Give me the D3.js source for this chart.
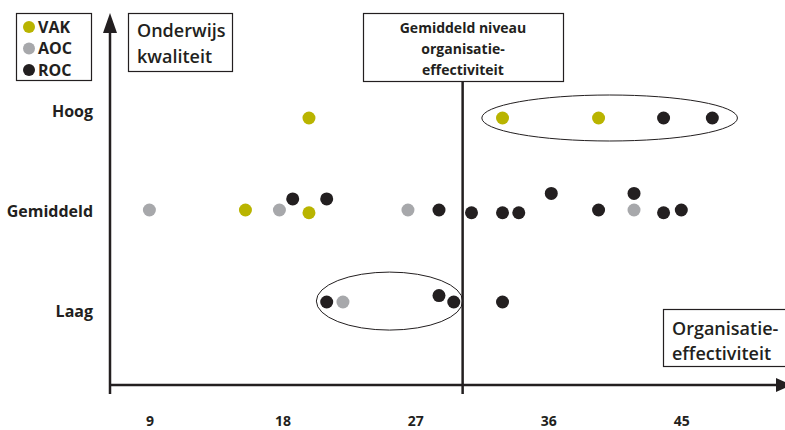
<!DOCTYPE html>
<html>
<head>
<meta charset="utf-8">
<script src="https://cdn.jsdelivr.net/npm/d3@7"></script>
<style>
    body { margin: 0; background: #fff; }
    svg { font-family: "Open Sans", sans-serif; }
</style>
</head>
<body>
<svg></svg>
<script>
const width = 785, height = 430;

// quality levels (1 = Laag, 2 = Gemiddeld, 3 = Hoog)
const levels = ["Laag", "Gemiddeld", "Hoog"];
const xTicks = [9, 18, 27, 36, 45];
const groups = ["VAK", "AOC", "ROC"];
const groupColors = ["#b9b400", "#a7a8ab", "#231f20"];

// organisatie-effectiviteit (x) and onderwijskwaliteit (y, with small offsets)
const vakX = [19.8, 32.9, 39.4, 15.5, 19.8];
const vakY = [3, 3, 3, 2, 1.97];
const aocX = [9, 17.8, 26.5, 41.8, 22.1];
const aocY = [2, 2, 2, 2, 1];
const rocX = [43.8, 47.1, 18.7, 21.0, 28.6, 30.8, 32.9, 34.0, 36.2, 39.4, 41.8, 43.8, 45.0, 21.0, 28.6, 29.6, 32.9];
const rocY = [3, 3, 2.12, 2.12, 2, 1.97, 1.97, 1.97, 2.18, 2, 2.18, 1.97, 2, 1, 1.07, 1, 1];

const average = 30.2;
const clusters = [
    {x0: 31.5, x1: 48.8, level: 3, ry: 23},
    {x0: 20.3, x1: 30.2, level: 1.01, ry: 29}
];

const ink = "#231f20";

const x = d3.scaleLinear().domain([9, 45]).range([149.4, 681.3]);
const y = d3.scaleLinear().domain([1, 3]).range([302, 118]);
const labelY = d3.scaleLinear().domain([1, 3]).range([311, 111]);

const svg = d3.select('svg')
    .attr('width', width)
    .attr('height', height);

const points = [];
vakX.forEach((v, i) => points.push({x: v, y: vakY[i], g: 0}));
aocX.forEach((v, i) => points.push({x: v, y: aocY[i], g: 1}));
rocX.forEach((v, i) => points.push({x: v, y: rocY[i], g: 2}));

// axes lines with arrows
svg.append('line')
    .attr('x1', 110).attr('x2', 110).attr('y1', 394).attr('y2', 28)
    .attr('stroke', ink).attr('stroke-width', 2.5);
svg.append('path')
    .attr('d', 'M110,13 L103,33 L117,33 Z')
    .attr('fill', ink);
svg.append('line')
    .attr('x1', 110).attr('x2', 780).attr('y1', 385).attr('y2', 385)
    .attr('stroke', ink).attr('stroke-width', 2.5);
svg.append('path')
    .attr('d', 'M792,385 L776,378 L776,392 Z')
    .attr('fill', ink);

// average line
svg.append('line')
    .attr('x1', x(average)).attr('x2', x(average))
    .attr('y1', 81).attr('y2', 394)
    .attr('stroke', ink).attr('stroke-width', 2.5);

// tick labels
const xAxis = svg.append('g')
    .attr('transform', 'translate(0,408)')
    .call(d3.axisBottom(x).tickValues(xTicks).tickSize(0).tickPadding(8));
xAxis.select('.domain').remove();
xAxis.selectAll('text')
    .attr('fill', ink)
    .style('font-family', '"Open Sans", sans-serif')
    .style('font-size', '14px')
    .style('font-weight', 700);

svg.selectAll('.level')
    .data(levels)
    .enter().append('text')
    .attr('class', 'level')
    .attr('x', 93)
    .attr('y', (d, i) => labelY(i + 1))
    .attr('dy', '0.35em')
    .attr('text-anchor', 'end')
    .attr('fill', ink)
    .style('font-size', '16px')
    .style('font-weight', 700)
    .text(d => d);

// cluster ellipses
svg.selectAll('.cluster')
    .data(clusters)
    .enter().append('ellipse')
    .attr('class', 'cluster')
    .attr('cx', d => (x(d.x0) + x(d.x1)) / 2)
    .attr('cy', d => y(d.level))
    .attr('rx', d => (x(d.x1) - x(d.x0)) / 2)
    .attr('ry', d => d.ry)
    .attr('fill', 'none')
    .attr('stroke', ink)
    .attr('stroke-width', 1);

// points
svg.selectAll('.point')
    .data(points)
    .enter().append('circle')
    .attr('class', 'point')
    .attr('cx', d => x(d.x))
    .attr('cy', d => y(d.y))
    .attr('r', 6.5)
    .attr('fill', d => groupColors[d.g]);

// legend
svg.append('rect')
    .attr('x', 16.5).attr('y', 13.5).attr('width', 75).attr('height', 67)
    .attr('fill', '#fff').attr('stroke', ink).attr('stroke-width', 1.2);
const legend = svg.selectAll('.legend')
    .data(groups)
    .enter().append('g')
    .attr('class', 'legend')
    .attr('transform', (d, i) => `translate(29,${27 + i * 21.5})`);
legend.append('circle')
    .attr('r', 6)
    .attr('fill', (d, i) => groupColors[i]);
legend.append('text')
    .attr('x', 9)
    .attr('dy', '0.36em')
    .attr('fill', ink)
    .style('font-size', '16px')
    .style('font-weight', 700)
    .text(d => d);

// text boxes
function textBox(bx, by, bw, bh, lines, tx, ty, lh, size, weight, anchor) {
    svg.append('rect')
        .attr('x', bx + 0.5).attr('y', by + 0.5).attr('width', bw).attr('height', bh)
        .attr('fill', '#fff').attr('stroke', ink).attr('stroke-width', 1.2);
    svg.append('text')
        .attr('fill', ink)
        .attr('text-anchor', anchor)
        .style('font-size', size + 'px')
        .style('font-weight', weight)
        .selectAll('tspan')
        .data(lines)
        .enter().append('tspan')
        .attr('x', tx)
        .attr('y', (d, i) => ty + i * lh)
        .text(d => d);
}

textBox(128, 13, 104, 58, ["Onderwijs", "kwaliteit"], 137, 37, 26, 18, 600, 'start');
textBox(363, 13, 200, 68, ["Gemiddeld niveau", "organisatie-", "effectiviteit"], 463, 33, 21, 14, 700, 'middle');
textBox(663, 309, 130, 57, ["Organisatie-", "effectiviteit"], 672, 335, 25, 18, 600, 'start');
</script>
</body>
</html>
